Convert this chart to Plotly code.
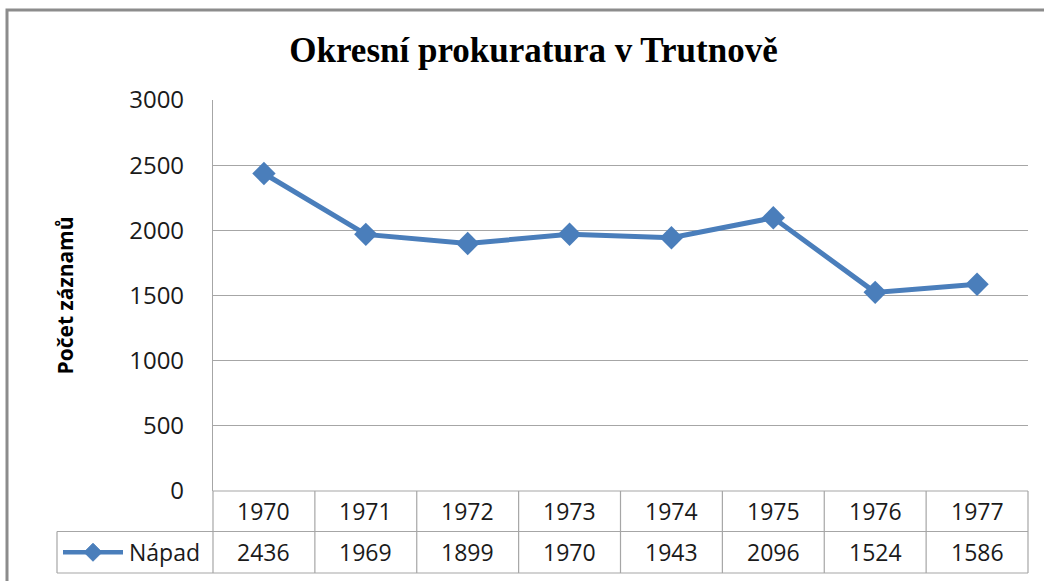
import plotly.graph_objects as go

# ---- data ----
years = ["1970", "1971", "1972", "1973", "1974", "1975", "1976", "1977"]
napad = [2436, 1969, 1899, 1970, 1943, 2096, 1524, 1586]
series_name = "Nápad"
title_text = "Okresní prokuratura v Trutnově"
y_title = "Počet záznamů"
y_ticks = [0, 500, 1000, 1500, 2000, 2500, 3000]

# ---- layout geometry (pixels) ----
W, H = 1044, 581
PL, PR, PT, PB = 213, 1028, 100, 491   # plot area
ROW1, ROW2 = 531.5, 573                # table row boundaries
KEY_LEFT = 57

BLUE = "#4A7EBB"
GRID = "#A6A6A6"
TXT = "#1a1a1a"
FONT = "Open Sans"


def px(x):
    return (x - PL) / (PR - PL)


def py(y):
    return (PB - y) / (PB - PT)


fig = go.Figure()
fig.add_trace(go.Scatter(
    x=years, y=napad, mode="lines+markers", name=series_name,
    line=dict(color=BLUE, width=5),
    marker=dict(symbol="diamond", size=18, color=BLUE),
    showlegend=False, hoverinfo="skip",
))

shapes = []
annotations = []


def hline(y, x0, x1):
    shapes.append(dict(type="line", xref="paper", yref="paper",
                       x0=px(x0), x1=px(x1), y0=py(y), y1=py(y),
                       line=dict(color=GRID, width=1.2)))


def vline(x, y0, y1):
    shapes.append(dict(type="line", xref="paper", yref="paper",
                       x0=px(x), x1=px(x), y0=py(y0), y1=py(y1),
                       line=dict(color=GRID, width=1.2)))


# table grid
n = len(years)
step = (PR - PL) / n
hline(PB, PL, PR)
hline(ROW1, KEY_LEFT, PR)
hline(ROW2, KEY_LEFT, PR)
for k in range(n + 1):
    vline(PL + k * step, PB, ROW2)
vline(KEY_LEFT, ROW1, ROW2)

# table text
row1_c = (PB + ROW1) / 2
row2_c = (ROW1 + ROW2) / 2
for i, (yr, v) in enumerate(zip(years, napad)):
    annotations.append(dict(x=i, xref="x", y=py(row1_c), yref="paper",
                            text=yr, showarrow=False, yanchor="middle",
                            font=dict(family=FONT, size=23, color=TXT)))
    annotations.append(dict(x=i, xref="x", y=py(row2_c), yref="paper",
                            text=str(v), showarrow=False, yanchor="middle",
                            font=dict(family=FONT, size=23, color=TXT)))

# legend key in table
shapes.append(dict(type="line", xref="paper", yref="paper",
                   x0=px(63), x1=px(123), y0=py(row2_c), y1=py(row2_c),
                   line=dict(color=BLUE, width=4.5)))
cx, cy, r = 93, row2_c, 9
shapes.append(dict(type="path", xref="paper", yref="paper",
                   path=f"M {px(cx-r)} {py(cy)} L {px(cx)} {py(cy-r)} L {px(cx+r)} {py(cy)} L {px(cx)} {py(cy+r)} Z",
                   fillcolor=BLUE, line=dict(color=BLUE, width=1)))
annotations.append(dict(x=px(127), xref="paper", y=py(row2_c), yref="paper",
                        text=series_name, showarrow=False, xanchor="left", yanchor="middle",
                        font=dict(family=FONT, size=23, color=TXT)))

# y-axis title
annotations.append(dict(x=px(64), xref="paper", y=py((PT + PB) / 2), yref="paper",
                        text=y_title, showarrow=False, textangle=-90,
                        xanchor="center", yanchor="middle",
                        font=dict(family=FONT, size=21, color="#000000", weight="bold")))

# outer frame
shapes.append(dict(type="rect", xref="paper", yref="paper",
                   x0=px(7), x1=px(W + 20), y0=py(10), y1=py(H + 20),
                   line=dict(color="#8C8C8C", width=3)))

fig.update_layout(
    width=W, height=H,
    margin=dict(l=PL, r=W - PR, t=PT, b=H - PB, autoexpand=False),
    paper_bgcolor="white", plot_bgcolor="white",
    title=dict(text=title_text, x=533.5 / W, xref="container", xanchor="center",
               y=1 - 50 / H, yref="container", yanchor="middle",
               font=dict(family="Liberation Serif", size=35, color="#000000", weight="bold")),
    xaxis=dict(type="category", range=[-0.5, n - 0.5], showticklabels=False,
               showgrid=False, zeroline=False, showline=False, ticks=""),
    yaxis=dict(range=[0, 3000], tickvals=y_ticks, showgrid=True, gridcolor=GRID,
               gridwidth=1.2, zeroline=False, showline=True, linecolor=GRID, linewidth=1.2,
               ticks="", ticklabelstandoff=23,
               tickfont=dict(family=FONT, size=24, color=TXT)),
    shapes=shapes, annotations=annotations,
    hovermode=False,
)

fig.write_html("out.html", config={"displayModeBar": False},
               post_script="document.body.style.margin='0';document.body.style.overflow='hidden';")
